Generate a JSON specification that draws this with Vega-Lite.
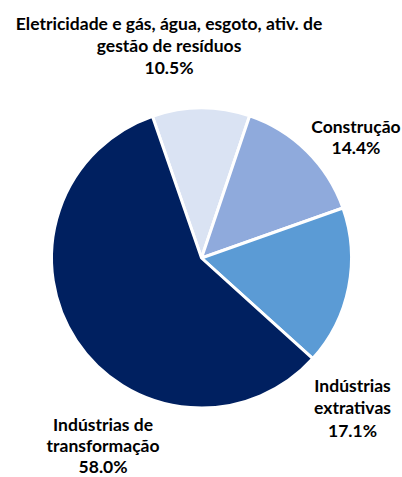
{
  "$schema": "https://vega.github.io/schema/vega-lite/v6.json",
  "width": 401,
  "height": 438,
  "padding": {"top": 39, "left": 1, "right": 0, "bottom": 0},
  "autosize": {"type": "none"},
  "background": "white",
  "view": {"stroke": null},
  "data": {
    "values": [
      {"setor": "Eletricidade e gás, água, esgoto, ativ. de gestão de resíduos", "rotulo": "Eletricidade e gás, água, esgoto, ativ. de\ngestão de resíduos\n10.5%", "valor": 10.5, "ordem": 1},
      {"setor": "Construção", "rotulo": "Construção\n14.4%", "valor": 14.4, "ordem": 2},
      {"setor": "Indústrias extrativas", "rotulo": "Indústrias\nextrativas\n17.1%", "valor": 17.1, "ordem": 3},
      {"setor": "Indústrias de transformação", "rotulo": "Indústrias de\ntransformação\n58.0%", "valor": 58.0, "ordem": 4}
    ]
  },
  "encoding": {
    "theta": {"field": "valor", "type": "quantitative", "stack": true, "scale": {"range": [-0.33336, 5.94983]}},
    "order": {"field": "ordem", "type": "quantitative"}
  },
  "layer": [
    {
      "mark": {"type": "arc", "radius": 150, "stroke": "white", "strokeWidth": 3},
      "encoding": {
        "color": {
          "field": "setor",
          "type": "nominal",
          "scale": {
            "domain": ["Eletricidade e gás, água, esgoto, ativ. de gestão de resíduos", "Construção", "Indústrias extrativas", "Indústrias de transformação"],
            "range": ["#DAE3F3", "#8FAADC", "#5B9BD5", "#002060"]
          },
          "legend": null
        }
      }
    },
    {
      "mark": {"type": "text", "radius": 190, "dx": -31.8, "dy": -38, "align": "center", "baseline": "alphabetic", "lineBreak": "\n", "lineHeight": 22, "font": "Lato", "fontSize": 17.5, "fontWeight": "bold", "color": "#000000"},
      "encoding": {"text": {"condition": {"test": "datum.ordem === 1", "field": "rotulo"}, "value": ""}}
    },
    {
      "mark": {"type": "text", "radius": 190, "dx": 21, "dy": 10, "align": "center", "baseline": "alphabetic", "lineBreak": "\n", "lineHeight": 21.5, "font": "Lato", "fontSize": 17.5, "fontWeight": "bold", "color": "#000000"},
      "encoding": {"text": {"condition": {"test": "datum.ordem === 2", "field": "rotulo"}, "value": ""}}
    },
    {
      "mark": {"type": "text", "radius": 190, "dx": -35.3, "dy": 96.7, "align": "center", "baseline": "alphabetic", "lineBreak": "\n", "lineHeight": 22.5, "font": "Lato", "fontSize": 17.5, "fontWeight": "bold", "color": "#000000"},
      "encoding": {"text": {"condition": {"test": "datum.ordem === 3", "field": "rotulo"}, "value": ""}}
    },
    {
      "mark": {"type": "text", "radius": 190, "dx": 60, "dy": 68, "align": "center", "baseline": "alphabetic", "lineBreak": "\n", "lineHeight": 21, "font": "Lato", "fontSize": 17.5, "fontWeight": "bold", "color": "#000000"},
      "encoding": {"text": {"condition": {"test": "datum.ordem === 4", "field": "rotulo"}, "value": ""}}
    }
  ]
}
